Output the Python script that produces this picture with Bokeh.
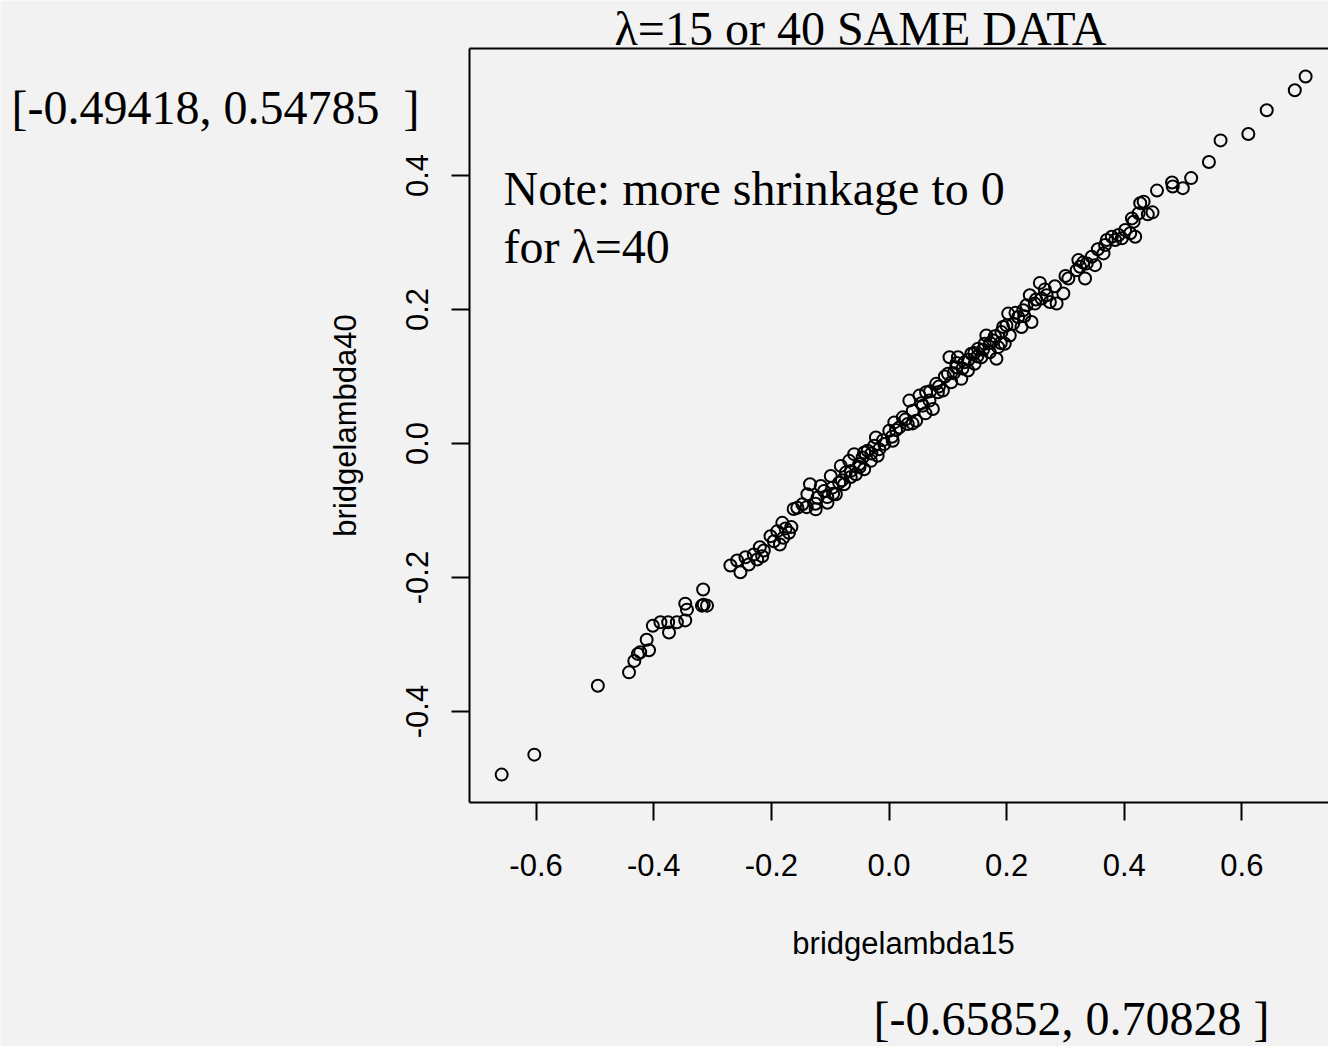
from bokeh.plotting import figure
from bokeh.models import Range1d, FixedTicker, PrintfTickFormatter, LinearAxis, Label
from bokeh.embed import file_html
from bokeh.resources import INLINE

# ---- data: ridge coefficients, lambda=15 (x) vs lambda=40 (y) ----
bridgelambda15 = [
    -0.65852, -0.603, -0.495, -0.442, -0.433, -0.427, -0.423, -0.408, -0.412, -0.4015,
    -0.3886, -0.3754, -0.374, -0.3606, -0.3464, -0.3435, -0.3464, -0.316, -0.315, -0.3094, -0.318,
    -0.2696, -0.2582, -0.2526, -0.2440, -0.2384, -0.2299, -0.2241, -0.2196, -0.2155, -0.2128,
    -0.2014, -0.1957, -0.1899, -0.1855, -0.1814, -0.1797, -0.1758, -0.1701, -0.1660,
    -0.1558, -0.1621, -0.1473, -0.1387, -0.1343, -0.1246, -0.1217, -0.1160, -0.1104, -0.1046,
    -0.0990, -0.0961, -0.0904, -0.0848, -0.0819, -0.0763, -0.0734, -0.0677, -0.0648, -0.0592,
    -0.0563, -0.0507, -0.0449, -0.0422, -0.0363, -0.0307, -0.0251, -0.0193,
    -0.0422, -0.0222, -0.0166, -0.0080, 0.0005, 0.0063, 0.0090, 0.0176, 0.0234, 0.0319,
    0.0346, 0.0404, 0.0461, 0.0517, 0.0575, 0.0631, 0.0688, 0.0746, 0.0802, 0.0831,
    0.0916, 0.1002, 0.1029, 0.1058, 0.1143, 0.1172, 0.1229, 0.1285, 0.1343, 0.1399,
    0.1456, 0.1514, 0.1570, 0.1626, 0.1655, 0.1712, 0.1770, 0.1826, 0.1855, 0.1911,
    0.1968, 0.1997, 0.2053,
    0.1940, 0.2026, 0.2111, 0.2196, 0.2253, 0.2282, 0.2338, 0.2394, 0.2423, 0.2480,
    0.2565, 0.2594, 0.2679, 0.2735, 0.2821, 0.2850, 0.2964, 0.3049, 0.3191, 0.3220,
    0.3247, 0.3333, 0.3362, 0.3447, 0.3503, 0.3647, 0.3674, 0.3703, 0.3788, 0.3845,
    0.3903, 0.3959, 0.4015, 0.4101, 0.4159, 0.4186, 0.4244, 0.4271,
    0.4329, 0.4556, 0.4812, 0.4824, 0.4995, 0.5137, 0.5439, 0.5637, 0.6109, 0.6422,
    0.6899, 0.70828, 0.440, 0.448, 0.413,
    0.012, 0.028, 0.055, 0.085, 0.095, 0.110, 0.125, 0.135, 0.150, 0.160,
    0.172, 0.180, 0.005, -0.010, -0.030, -0.050, -0.065, -0.080, -0.095, -0.105,
    -0.125, -0.140, 0.215, 0.230, 0.250, 0.265, 0.300, 0.330, 0.355, 0.062,
    0.040, 0.070, 0.115, 0.145, 0.190,
]
bridgelambda40 = [
    -0.49418, -0.4644, -0.3615, -0.3416, -0.3245, -0.314, -0.3115, -0.3086, -0.293, -0.272,
    -0.2667, -0.2667, -0.282, -0.2667, -0.264, -0.248, -0.239, -0.218, -0.2406, -0.242, -0.242,
    -0.1822, -0.1747, -0.1922, -0.1697, -0.1807, -0.1657, -0.1732, -0.1548, -0.1682, -0.1597,
    -0.1383, -0.1458, -0.1308, -0.1507, -0.1184, -0.1408, -0.1267, -0.1333, -0.1248,
    -0.0959, -0.0978, -0.0908, -0.0758, -0.0608, -0.0983, -0.0809, -0.0634, -0.0709, -0.0884,
    -0.0484, -0.0659, -0.0758, -0.0584, -0.0334, -0.0608, -0.0434, -0.0259, -0.0409, -0.0159,
    -0.0458, -0.0309, -0.0210, -0.0384, -0.0109, -0.0259, -0.0034, -0.0184,
    -0.0135, 0.0090, -0.0084, -0.0009, 0.0190, 0.0040, 0.0315, 0.0240, 0.0390, 0.0291,
    0.0640, 0.0490, 0.0340, 0.0715, 0.0565, 0.0764, 0.0640, 0.0515, 0.0890, 0.0764,
    0.0790, 0.1040, 0.1288, 0.0914, 0.1139, 0.1288, 0.0965, 0.1213, 0.1089, 0.1339,
    0.1190, 0.1414, 0.1288, 0.1489, 0.1613, 0.1363, 0.1539, 0.1264, 0.1438, 0.1663,
    0.1489, 0.1763, 0.1613,
    0.1738, 0.1939, 0.1789, 0.1888, 0.1738, 0.1988, 0.2063, 0.2213, 0.1813, 0.2088,
    0.2397, 0.2163, 0.2213, 0.2112, 0.2348, 0.2088, 0.2238, 0.2463, 0.2587, 0.2737,
    0.2637, 0.2463, 0.2688, 0.2787, 0.2662, 0.2837, 0.2962, 0.3037, 0.3086, 0.3037,
    0.3112, 0.3062, 0.3187, 0.3137, 0.3311, 0.3086, 0.3437, 0.3587,
    0.3610, 0.3775, 0.3895, 0.3835, 0.3811, 0.3961, 0.4201, 0.4524, 0.4620, 0.4974,
    0.5273, 0.54785, 0.342, 0.345, 0.336,
    0.020, 0.036, 0.060, 0.085, 0.100, 0.105, 0.112, 0.125, 0.130, 0.140,
    0.150, 0.160, 0.010, 0.005, -0.015, -0.035, -0.050, -0.055, -0.075, -0.080,
    -0.090, -0.095, 0.195, 0.190, 0.215, 0.230, 0.250, 0.270, 0.290, 0.045,
    0.030, 0.078, 0.120, 0.135, 0.150,
]
x_ticks = [-0.6, -0.4, -0.2, 0.0, 0.2, 0.4, 0.6]
y_ticks = [-0.4, -0.2, 0.0, 0.2, 0.4]
title_text = "λ=15 or 40 SAME DATA"
note_lines = ["Note: more shrinkage to 0", "for λ=40"]
y_range_text = "[-0.49418, 0.54785 \u00a0]"
x_range_text = "[-0.65852, 0.70828 ]"

BG = "#f2f2f2"
SANS = "Liberation Sans"
SERIF = "Liberation Serif"

# box geometry (pixels) and scales; the frame spans the whole canvas
B_LEFT, B_TOP, B_BOTTOM, W, H = 469, 48, 802, 1328, 1046
X0, XS = 888.5, 588.2      # pixel of x=0, px per unit
Y0, YS = 443.0, 670.0      # pixel of y=0, px per unit

def dx(px):
    return (px - X0) / XS

def dy(py):
    return (Y0 - py) / YS

p = figure(width=W, height=H, output_backend="svg", toolbar_location=None,
           x_range=Range1d(dx(0), dx(W)), y_range=Range1d(dy(H), dy(0)),
           x_axis_location=None, y_axis_location=None)
p.min_border = 0
p.min_border_left = 0
p.min_border_right = 0
p.min_border_top = 0
p.min_border_bottom = 0
p.background_fill_color = BG
p.border_fill_color = BG
p.outline_line_color = None
p.grid.visible = False

xbounds = (dx(B_LEFT), dx(W))
ybounds = (dy(B_BOTTOM), dy(B_TOP))

def style(ax):
    ax.axis_line_color = "black"
    ax.axis_line_width = 2
    ax.major_tick_line_color = "black"
    ax.major_tick_line_width = 2
    ax.major_tick_out = 18
    ax.major_tick_in = 0
    ax.minor_tick_line_color = None
    ax.major_label_text_font = SANS
    ax.major_label_text_font_size = "31px"
    ax.major_label_text_color = "black"
    ax.formatter = PrintfTickFormatter(format="%.1f")

xaxis = LinearAxis(ticker=FixedTicker(ticks=x_ticks), fixed_location=dy(B_BOTTOM),
                   bounds=xbounds)
style(xaxis)
xaxis.major_label_standoff = 33
p.add_layout(xaxis, "below")

yaxis = LinearAxis(ticker=FixedTicker(ticks=y_ticks), fixed_location=dx(B_LEFT),
                   bounds=ybounds)
style(yaxis)
yaxis.major_label_orientation = "vertical"
yaxis.major_label_standoff = 24
yaxis.axis_label = "bridgelambda40"
yaxis.axis_label_text_font = SANS
yaxis.axis_label_text_font_size = "31px"
yaxis.axis_label_text_font_style = "normal"
yaxis.axis_label_text_color = "black"
yaxis.axis_label_standoff = 40
p.add_layout(yaxis, "left")

top = LinearAxis(ticker=FixedTicker(ticks=[]), fixed_location=dy(B_TOP), bounds=xbounds,
                 axis_line_width=2, axis_line_color="black",
                 major_tick_line_color=None, minor_tick_line_color=None,
                 major_label_text_font_size="0px")
p.add_layout(top, "above")

p.scatter(bridgelambda15, bridgelambda40, marker="circle", size=12,
          fill_color=None, line_color="black", line_width=2)

def add_text(txt, px, py, font, size, align="left"):
    p.add_layout(Label(x=dx(px), y=dy(py), text=txt, text_font=font,
                       text_font_size=size, text_align=align,
                       text_baseline="alphabetic", text_color="black"))

add_text("bridgelambda15", 903, 943, SANS, "31px", "center")
add_text(title_text, 860, 28, SERIF, "48px", "center")
add_text(note_lines[0], 503, 188, SERIF, "48px")
add_text(note_lines[1], 503, 246, SERIF, "48px")
add_text(y_range_text, 11, 107, SERIF, "48px")
add_text(x_range_text, 873, 1018, SERIF, "48px")

open("out.html", "w").write(file_html(p, INLINE))
